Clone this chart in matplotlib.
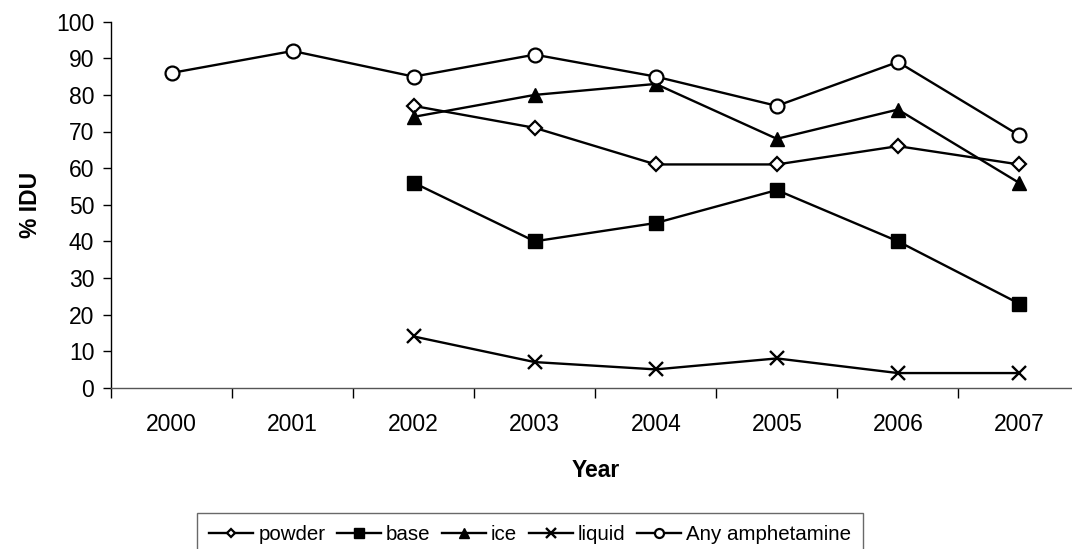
import matplotlib
matplotlib.use("Agg")
import matplotlib.pyplot as plt
from matplotlib.ticker import FixedLocator, NullFormatter

plt.rcParams['font.family'] = ['Liberation Sans', 'DejaVu Sans']

years = ["2000", "2001", "2002", "2003", "2004", "2005", "2006", "2007"]
powder = [None, None, 77, 71, 61, 61, 66, 61]
base = [None, None, 56, 40, 45, 54, 40, 23]
ice = [None, None, 74, 80, 83, 68, 76, 56]
liquid = [None, None, 14, 7, 5, 8, 4, 4]
any_amph = [86, 92, 85, 91, 85, 77, 89, 69]

W, H = 1072, 549
fig = plt.figure(figsize=(W / 100, H / 100), dpi=100)
ax = fig.add_axes([111 / W, 1 - 387.7 / H, 968.5 / W, 366 / H])


def series(vals):
    xs = [i for i, v in enumerate(vals) if v is not None]
    ys = [v for v in vals if v is not None]
    return xs, ys


FS = 16.5
LEG_FS = 14.8
lw = 1.7
styles = [
    ("powder", powder, dict(marker="D", ms=7, mfc="white", mec="black", mew=1.6)),
    ("base", base, dict(marker="s", ms=10, mfc="black", mec="black", mew=1)),
    ("ice", ice, dict(marker="^", ms=10.5, mfc="black", mec="black", mew=1)),
    ("liquid", liquid, dict(marker="x", ms=10, mfc="black", mec="black", mew=1.7)),
    ("Any amphetamine", any_amph, dict(marker="o", ms=10, mfc="white", mec="black", mew=1.6)),
]
for name, vals, st in styles:
    xs, ys = series(vals)
    ax.plot(xs, ys, color="black", lw=lw, label=name, clip_on=False, **st)

ax.set_xlim(-0.5, 7.5)
ax.set_ylim(0, 100)
ax.set_yticks(range(0, 101, 10))
ax.tick_params(axis="y", direction="out", length=6, width=1, labelsize=FS, pad=6, colors="black")

ax.xaxis.set_major_locator(FixedLocator([i - 0.5 for i in range(9)]))
ax.xaxis.set_major_formatter(NullFormatter())
ax.xaxis.set_minor_locator(FixedLocator(list(range(8))))
ax.set_xticklabels(years, minor=True)
ax.tick_params(axis="x", which="major", direction="out", length=7, width=1, color="black")
ax.tick_params(axis="x", which="minor", length=0, labelsize=FS, pad=18)

for side in ("top", "right"):
    ax.spines[side].set_visible(False)
ax.spines["left"].set_color("black")
ax.spines["bottom"].set_color("#555555")
ax.spines["left"].set_linewidth(1)
ax.spines["bottom"].set_linewidth(1)

ax.set_ylabel("% IDU", fontsize=FS, fontweight="bold", labelpad=10)
ax.set_xlabel("Year", fontsize=FS, fontweight="bold", labelpad=17)

leg = fig.legend(loc="upper center", bbox_to_anchor=(530 / W, 1 - 512.7 / H), ncol=5,
                 fontsize=LEG_FS, frameon=True, fancybox=False, edgecolor="#444444",
                 handlelength=2.15, handletextpad=0.25, columnspacing=0.55,
                 borderpad=0.6, borderaxespad=0, markerscale=0.65)
leg.get_frame().set_linewidth(1)

fig.savefig("out.png", dpi=100)
